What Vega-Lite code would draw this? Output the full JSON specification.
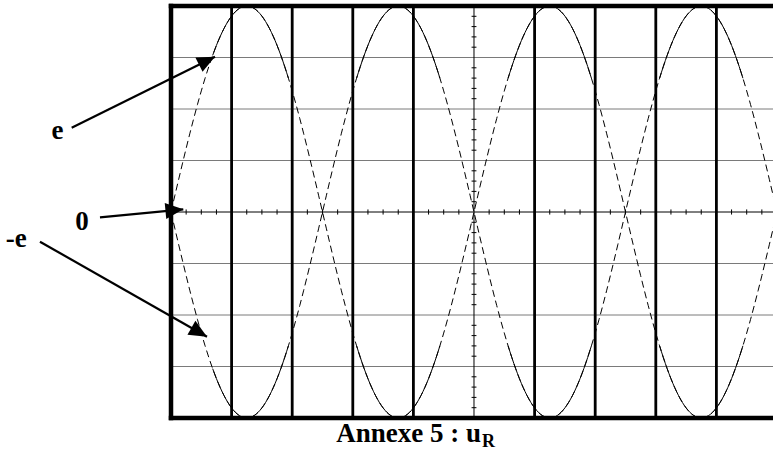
{
  "$schema": "https://vega.github.io/schema/vega-lite/v6.json",
  "width": 602,
  "height": 412,
  "autosize": {"type": "none"},
  "padding": {"left": 171, "top": 6, "right": 0, "bottom": 35},
  "background": "white",
  "config": {"view": {"stroke": null}},
  "datasets": {
    "signal": [
      {"t":0,"e":0,"neg_e":0,"half":0},
      {"t":0.0625,"e":0.3138,"neg_e":-0.3138,"half":0},
      {"t":0.125,"e":0.6257,"neg_e":-0.6257,"half":0},
      {"t":0.1875,"e":0.9338,"neg_e":-0.9338,"half":0},
      {"t":0.25,"e":1.2361,"neg_e":-1.2361,"half":0},
      {"t":0.3125,"e":1.5307,"neg_e":-1.5307,"half":0},
      {"t":0.375,"e":1.816,"neg_e":-1.816,"half":0},
      {"t":0.4375,"e":2.09,"neg_e":-2.09,"half":0},
      {"t":0.5,"e":2.3511,"neg_e":-2.3511,"half":0},
      {"t":0.5625,"e":2.5978,"neg_e":-2.5978,"half":0},
      {"t":0.625,"e":2.8284,"neg_e":-2.8284,"half":0},
      {"t":0.6875,"e":3.0416,"neg_e":-3.0416,"half":0},
      {"t":0.75,"e":3.2361,"neg_e":-3.2361,"half":0},
      {"t":0.8125,"e":3.4106,"neg_e":-3.4106,"half":0},
      {"t":0.875,"e":3.564,"neg_e":-3.564,"half":0},
      {"t":0.9375,"e":3.6955,"neg_e":-3.6955,"half":0},
      {"t":1,"e":3.8042,"neg_e":-3.8042,"half":0},
      {"t":1.0625,"e":3.8895,"neg_e":-3.8895,"half":0},
      {"t":1.125,"e":3.9508,"neg_e":-3.9508,"half":0},
      {"t":1.1875,"e":3.9877,"neg_e":-3.9877,"half":0},
      {"t":1.25,"e":4,"neg_e":-4,"half":0},
      {"t":1.3125,"e":3.9877,"neg_e":-3.9877,"half":0},
      {"t":1.375,"e":3.9508,"neg_e":-3.9508,"half":0},
      {"t":1.4375,"e":3.8895,"neg_e":-3.8895,"half":0},
      {"t":1.5,"e":3.8042,"neg_e":-3.8042,"half":0},
      {"t":1.5625,"e":3.6955,"neg_e":-3.6955,"half":0},
      {"t":1.625,"e":3.564,"neg_e":-3.564,"half":0},
      {"t":1.6875,"e":3.4106,"neg_e":-3.4106,"half":0},
      {"t":1.75,"e":3.2361,"neg_e":-3.2361,"half":0},
      {"t":1.8125,"e":3.0416,"neg_e":-3.0416,"half":0},
      {"t":1.875,"e":2.8284,"neg_e":-2.8284,"half":0},
      {"t":1.9375,"e":2.5978,"neg_e":-2.5978,"half":0},
      {"t":2,"e":2.3511,"neg_e":-2.3511,"half":0},
      {"t":2.0625,"e":2.09,"neg_e":-2.09,"half":0},
      {"t":2.125,"e":1.816,"neg_e":-1.816,"half":0},
      {"t":2.1875,"e":1.5307,"neg_e":-1.5307,"half":0},
      {"t":2.25,"e":1.2361,"neg_e":-1.2361,"half":0},
      {"t":2.3125,"e":0.9338,"neg_e":-0.9338,"half":0},
      {"t":2.375,"e":0.6257,"neg_e":-0.6257,"half":0},
      {"t":2.4375,"e":0.3138,"neg_e":-0.3138,"half":0},
      {"t":2.5,"e":0,"neg_e":0,"half":1},
      {"t":2.5625,"e":-0.3138,"neg_e":0.3138,"half":1},
      {"t":2.625,"e":-0.6257,"neg_e":0.6257,"half":1},
      {"t":2.6875,"e":-0.9338,"neg_e":0.9338,"half":1},
      {"t":2.75,"e":-1.2361,"neg_e":1.2361,"half":1},
      {"t":2.8125,"e":-1.5307,"neg_e":1.5307,"half":1},
      {"t":2.875,"e":-1.816,"neg_e":1.816,"half":1},
      {"t":2.9375,"e":-2.09,"neg_e":2.09,"half":1},
      {"t":3,"e":-2.3511,"neg_e":2.3511,"half":1},
      {"t":3.0625,"e":-2.5978,"neg_e":2.5978,"half":1},
      {"t":3.125,"e":-2.8284,"neg_e":2.8284,"half":1},
      {"t":3.1875,"e":-3.0416,"neg_e":3.0416,"half":1},
      {"t":3.25,"e":-3.2361,"neg_e":3.2361,"half":1},
      {"t":3.3125,"e":-3.4106,"neg_e":3.4106,"half":1},
      {"t":3.375,"e":-3.564,"neg_e":3.564,"half":1},
      {"t":3.4375,"e":-3.6955,"neg_e":3.6955,"half":1},
      {"t":3.5,"e":-3.8042,"neg_e":3.8042,"half":1},
      {"t":3.5625,"e":-3.8895,"neg_e":3.8895,"half":1},
      {"t":3.625,"e":-3.9508,"neg_e":3.9508,"half":1},
      {"t":3.6875,"e":-3.9877,"neg_e":3.9877,"half":1},
      {"t":3.75,"e":-4,"neg_e":4,"half":1},
      {"t":3.8125,"e":-3.9877,"neg_e":3.9877,"half":1},
      {"t":3.875,"e":-3.9508,"neg_e":3.9508,"half":1},
      {"t":3.9375,"e":-3.8895,"neg_e":3.8895,"half":1},
      {"t":4,"e":-3.8042,"neg_e":3.8042,"half":1},
      {"t":4.0625,"e":-3.6955,"neg_e":3.6955,"half":1},
      {"t":4.125,"e":-3.564,"neg_e":3.564,"half":1},
      {"t":4.1875,"e":-3.4106,"neg_e":3.4106,"half":1},
      {"t":4.25,"e":-3.2361,"neg_e":3.2361,"half":1},
      {"t":4.3125,"e":-3.0416,"neg_e":3.0416,"half":1},
      {"t":4.375,"e":-2.8284,"neg_e":2.8284,"half":1},
      {"t":4.4375,"e":-2.5978,"neg_e":2.5978,"half":1},
      {"t":4.5,"e":-2.3511,"neg_e":2.3511,"half":1},
      {"t":4.5625,"e":-2.09,"neg_e":2.09,"half":1},
      {"t":4.625,"e":-1.816,"neg_e":1.816,"half":1},
      {"t":4.6875,"e":-1.5307,"neg_e":1.5307,"half":1},
      {"t":4.75,"e":-1.2361,"neg_e":1.2361,"half":1},
      {"t":4.8125,"e":-0.9338,"neg_e":0.9338,"half":1},
      {"t":4.875,"e":-0.6257,"neg_e":0.6257,"half":1},
      {"t":4.9375,"e":-0.3138,"neg_e":0.3138,"half":1},
      {"t":5,"e":0,"neg_e":0,"half":2},
      {"t":5.0625,"e":0.3138,"neg_e":-0.3138,"half":2},
      {"t":5.125,"e":0.6257,"neg_e":-0.6257,"half":2},
      {"t":5.1875,"e":0.9338,"neg_e":-0.9338,"half":2},
      {"t":5.25,"e":1.2361,"neg_e":-1.2361,"half":2},
      {"t":5.3125,"e":1.5307,"neg_e":-1.5307,"half":2},
      {"t":5.375,"e":1.816,"neg_e":-1.816,"half":2},
      {"t":5.4375,"e":2.09,"neg_e":-2.09,"half":2},
      {"t":5.5,"e":2.3511,"neg_e":-2.3511,"half":2},
      {"t":5.5625,"e":2.5978,"neg_e":-2.5978,"half":2},
      {"t":5.625,"e":2.8284,"neg_e":-2.8284,"half":2},
      {"t":5.6875,"e":3.0416,"neg_e":-3.0416,"half":2},
      {"t":5.75,"e":3.2361,"neg_e":-3.2361,"half":2},
      {"t":5.8125,"e":3.4106,"neg_e":-3.4106,"half":2},
      {"t":5.875,"e":3.564,"neg_e":-3.564,"half":2},
      {"t":5.9375,"e":3.6955,"neg_e":-3.6955,"half":2},
      {"t":6,"e":3.8042,"neg_e":-3.8042,"half":2},
      {"t":6.0625,"e":3.8895,"neg_e":-3.8895,"half":2},
      {"t":6.125,"e":3.9508,"neg_e":-3.9508,"half":2},
      {"t":6.1875,"e":3.9877,"neg_e":-3.9877,"half":2},
      {"t":6.25,"e":4,"neg_e":-4,"half":2},
      {"t":6.3125,"e":3.9877,"neg_e":-3.9877,"half":2},
      {"t":6.375,"e":3.9508,"neg_e":-3.9508,"half":2},
      {"t":6.4375,"e":3.8895,"neg_e":-3.8895,"half":2},
      {"t":6.5,"e":3.8042,"neg_e":-3.8042,"half":2},
      {"t":6.5625,"e":3.6955,"neg_e":-3.6955,"half":2},
      {"t":6.625,"e":3.564,"neg_e":-3.564,"half":2},
      {"t":6.6875,"e":3.4106,"neg_e":-3.4106,"half":2},
      {"t":6.75,"e":3.2361,"neg_e":-3.2361,"half":2},
      {"t":6.8125,"e":3.0416,"neg_e":-3.0416,"half":2},
      {"t":6.875,"e":2.8284,"neg_e":-2.8284,"half":2},
      {"t":6.9375,"e":2.5978,"neg_e":-2.5978,"half":2},
      {"t":7,"e":2.3511,"neg_e":-2.3511,"half":2},
      {"t":7.0625,"e":2.09,"neg_e":-2.09,"half":2},
      {"t":7.125,"e":1.816,"neg_e":-1.816,"half":2},
      {"t":7.1875,"e":1.5307,"neg_e":-1.5307,"half":2},
      {"t":7.25,"e":1.2361,"neg_e":-1.2361,"half":2},
      {"t":7.3125,"e":0.9338,"neg_e":-0.9338,"half":2},
      {"t":7.375,"e":0.6257,"neg_e":-0.6257,"half":2},
      {"t":7.4375,"e":0.3138,"neg_e":-0.3138,"half":2},
      {"t":7.5,"e":0,"neg_e":0,"half":3},
      {"t":7.5625,"e":-0.3138,"neg_e":0.3138,"half":3},
      {"t":7.625,"e":-0.6257,"neg_e":0.6257,"half":3},
      {"t":7.6875,"e":-0.9338,"neg_e":0.9338,"half":3},
      {"t":7.75,"e":-1.2361,"neg_e":1.2361,"half":3},
      {"t":7.8125,"e":-1.5307,"neg_e":1.5307,"half":3},
      {"t":7.875,"e":-1.816,"neg_e":1.816,"half":3},
      {"t":7.9375,"e":-2.09,"neg_e":2.09,"half":3},
      {"t":8,"e":-2.3511,"neg_e":2.3511,"half":3},
      {"t":8.0625,"e":-2.5978,"neg_e":2.5978,"half":3},
      {"t":8.125,"e":-2.8284,"neg_e":2.8284,"half":3},
      {"t":8.1875,"e":-3.0416,"neg_e":3.0416,"half":3},
      {"t":8.25,"e":-3.2361,"neg_e":3.2361,"half":3},
      {"t":8.3125,"e":-3.4106,"neg_e":3.4106,"half":3},
      {"t":8.375,"e":-3.564,"neg_e":3.564,"half":3},
      {"t":8.4375,"e":-3.6955,"neg_e":3.6955,"half":3},
      {"t":8.5,"e":-3.8042,"neg_e":3.8042,"half":3},
      {"t":8.5625,"e":-3.8895,"neg_e":3.8895,"half":3},
      {"t":8.625,"e":-3.9508,"neg_e":3.9508,"half":3},
      {"t":8.6875,"e":-3.9877,"neg_e":3.9877,"half":3},
      {"t":8.75,"e":-4,"neg_e":4,"half":3},
      {"t":8.8125,"e":-3.9877,"neg_e":3.9877,"half":3},
      {"t":8.875,"e":-3.9508,"neg_e":3.9508,"half":3},
      {"t":8.9375,"e":-3.8895,"neg_e":3.8895,"half":3},
      {"t":9,"e":-3.8042,"neg_e":3.8042,"half":3},
      {"t":9.0625,"e":-3.6955,"neg_e":3.6955,"half":3},
      {"t":9.125,"e":-3.564,"neg_e":3.564,"half":3},
      {"t":9.1875,"e":-3.4106,"neg_e":3.4106,"half":3},
      {"t":9.25,"e":-3.2361,"neg_e":3.2361,"half":3},
      {"t":9.3125,"e":-3.0416,"neg_e":3.0416,"half":3},
      {"t":9.375,"e":-2.8284,"neg_e":2.8284,"half":3},
      {"t":9.4375,"e":-2.5978,"neg_e":2.5978,"half":3},
      {"t":9.5,"e":-2.3511,"neg_e":2.3511,"half":3},
      {"t":9.5625,"e":-2.09,"neg_e":2.09,"half":3},
      {"t":9.625,"e":-1.816,"neg_e":1.816,"half":3},
      {"t":9.6875,"e":-1.5307,"neg_e":1.5307,"half":3},
      {"t":9.75,"e":-1.2361,"neg_e":1.2361,"half":3},
      {"t":9.8125,"e":-0.9338,"neg_e":0.9338,"half":3},
      {"t":9.875,"e":-0.6257,"neg_e":0.6257,"half":3},
      {"t":9.9375,"e":-0.3138,"neg_e":0.3138,"half":3},
      {"t":10,"e":0,"neg_e":0,"half":3}
    ],
    "divisions": [
      {"t":0},{"t":1},{"t":2},{"t":3},{"t":4},{"t":5},{"t":6},{"t":7},{"t":8},{"t":9}
    ],
    "niveaux": [
      {"v":-4},{"v":-3},{"v":-2},{"v":-1},{"v":0},{"v":1},{"v":2},{"v":3},{"v":4}
    ],
    "graduations_t": [
      {"t":0.25},{"t":0.5},{"t":0.75},{"t":1.25},{"t":1.5},{"t":1.75},
      {"t":2.25},{"t":2.5},{"t":2.75},{"t":3.25},{"t":3.5},{"t":3.75},
      {"t":4.25},{"t":4.5},{"t":4.75},{"t":5.25},{"t":5.5},{"t":5.75},
      {"t":6.25},{"t":6.5},{"t":6.75},{"t":7.25},{"t":7.5},{"t":7.75},
      {"t":8.25},{"t":8.5},{"t":8.75},{"t":9.25},{"t":9.5},{"t":9.75}
    ],
    "graduations_v": [
      {"v":-3.8},{"v":-3.6},{"v":-3.4},{"v":-3.2},{"v":-2.8},{"v":-2.6},{"v":-2.4},{"v":-2.2},
      {"v":-1.8},{"v":-1.6},{"v":-1.4},{"v":-1.2},{"v":-0.8},{"v":-0.6},{"v":-0.4},{"v":-0.2},
      {"v":0.2},{"v":0.4},{"v":0.6},{"v":0.8},{"v":1.2},{"v":1.4},{"v":1.6},{"v":1.8},
      {"v":2.2},{"v":2.4},{"v":2.6},{"v":2.8},{"v":3.2},{"v":3.4},{"v":3.6},{"v":3.8}
    ],
    "fleches": [
      {"nom":"e","t":0.726,"v":3.016,"t2":-1.639,"v2":1.637},
      {"nom":"0","t":0.203,"v":0.052,"t2":-1.172,"v2":-0.103},
      {"nom":"-e","t":0.594,"v":-2.421,"t2":-2.162,"v2":-0.577}
    ],
    "etiquettes": [
      {"nom":"e","t":-1.873,"v":1.417},
      {"nom":"0","t":-1.469,"v":-0.359},
      {"nom":"-e","t":-2.553,"v":-0.68}
    ],
    "legende": [
      {"texte":"Annexe 5 : u","t":5.116,"v":-4.46},
      {"texte":"R","t":5.132,"v":-4.557}
    ]
  },
  "layer": [
    {
      "data": {"name": "niveaux"},
      "transform": [{"filter": "abs(datum.v) > 0 && abs(datum.v) < 4"}],
      "mark": {"type": "rule", "color": "#7a7a7a", "strokeWidth": 1},
      "encoding": {
        "y": {"field": "v", "type": "quantitative", "scale": {"domain": [-4, 4], "nice": false, "zero": false}, "axis": null}
      }
    },
    {
      "data": {"name": "divisions"},
      "transform": [{"filter": "datum.t != 0 && datum.t != 5"}],
      "mark": {"type": "rule", "color": "black", "strokeWidth": 2.8},
      "encoding": {
        "x": {"field": "t", "type": "quantitative", "scale": {"domain": [0, 9.934], "nice": false, "zero": false}, "axis": null}
      }
    },
    {
      "data": {"name": "divisions"},
      "transform": [{"filter": "datum.t == 5"}],
      "mark": {"type": "rule", "color": "black", "strokeWidth": 1},
      "encoding": {
        "x": {"field": "t", "type": "quantitative", "scale": {"domain": [0, 9.934], "nice": false, "zero": false}, "axis": null}
      }
    },
    {
      "data": {"name": "niveaux"},
      "transform": [{"filter": "datum.v == 0"}],
      "mark": {"type": "rule", "color": "black", "strokeWidth": 1},
      "encoding": {
        "y": {"field": "v", "type": "quantitative", "scale": {"domain": [-4, 4], "nice": false, "zero": false}, "axis": null}
      }
    },
    {
      "data": {"name": "graduations_t"},
      "mark": {"type": "rule", "color": "black", "strokeWidth": 1},
      "encoding": {
        "x": {"field": "t", "type": "quantitative", "scale": {"domain": [0, 9.934], "nice": false, "zero": false}, "axis": null},
        "y": {"datum": -0.05, "type": "quantitative", "scale": {"domain": [-4, 4], "nice": false, "zero": false}, "axis": null},
        "y2": {"datum": 0.05}
      }
    },
    {
      "data": {"name": "graduations_v"},
      "mark": {"type": "rule", "color": "black", "strokeWidth": 1},
      "encoding": {
        "y": {"field": "v", "type": "quantitative", "scale": {"domain": [-4, 4], "nice": false, "zero": false}, "axis": null},
        "x": {"datum": 4.96, "type": "quantitative", "scale": {"domain": [0, 9.934], "nice": false, "zero": false}, "axis": null},
        "x2": {"datum": 5.04}
      }
    },
    {
      "data": {"name": "signal"},
      "transform": [{"fold": ["e", "neg_e"], "as": ["courbe", "v"]}],
      "mark": {"type": "line", "color": "black", "strokeWidth": 1, "strokeDash": [7, 4], "interpolate": "monotone", "clip": true},
      "encoding": {
        "x": {"field": "t", "type": "quantitative", "scale": {"domain": [0, 9.934], "nice": false, "zero": false}, "axis": null},
        "y": {"field": "v", "type": "quantitative", "scale": {"domain": [-4, 4], "nice": false, "zero": false}, "axis": null},
        "detail": {"field": "courbe"}
      }
    },
    {
      "data": {"name": "signal"},
      "transform": [
        {"fold": ["e", "neg_e"], "as": ["courbe", "v"]},
        {"filter": "abs(datum.v) >= 2.55 && datum.t >= 0.68"}
      ],
      "mark": {"type": "line", "color": "black", "strokeWidth": 1, "interpolate": "monotone", "clip": true},
      "encoding": {
        "x": {"field": "t", "type": "quantitative", "scale": {"domain": [0, 9.934], "nice": false, "zero": false}, "axis": null},
        "y": {"field": "v", "type": "quantitative", "scale": {"domain": [-4, 4], "nice": false, "zero": false}, "axis": null},
        "detail": [{"field": "courbe"}, {"field": "half"}]
      }
    },
    {
      "data": {"name": "niveaux"},
      "transform": [{"filter": "abs(datum.v) == 4"}],
      "mark": {"type": "rule", "color": "black", "strokeWidth": 4.5, "strokeCap": "square"},
      "encoding": {
        "y": {"field": "v", "type": "quantitative", "scale": {"domain": [-4, 4], "nice": false, "zero": false}, "axis": null}
      }
    },
    {
      "data": {"name": "divisions"},
      "transform": [{"filter": "datum.t == 0"}],
      "mark": {"type": "rule", "color": "black", "strokeWidth": 4.5, "strokeCap": "square"},
      "encoding": {
        "x": {"field": "t", "type": "quantitative", "scale": {"domain": [0, 9.934], "nice": false, "zero": false}, "axis": null}
      }
    },
    {
      "data": {"name": "fleches"},
      "mark": {"type": "rule", "color": "black", "strokeWidth": 2.2},
      "encoding": {
        "x": {"field": "t", "type": "quantitative", "scale": {"domain": [0, 9.934], "nice": false, "zero": false}, "axis": null},
        "y": {"field": "v", "type": "quantitative", "scale": {"domain": [-4, 4], "nice": false, "zero": false}, "axis": null},
        "x2": {"field": "t2"},
        "y2": {"field": "v2"}
      }
    },
    {
      "data": {"name": "fleches"},
      "transform": [{"filter": "datum.nom == 'e'"}],
      "mark": {"type": "point", "shape": "M0,0L-2,-0.9L-2,0.9Z", "size": 320, "filled": true, "opacity": 1, "color": "black", "angle": -26.4},
      "encoding": {
        "x": {"field": "t", "type": "quantitative", "scale": {"domain": [0, 9.934], "nice": false, "zero": false}, "axis": null},
        "y": {"field": "v", "type": "quantitative", "scale": {"domain": [-4, 4], "nice": false, "zero": false}, "axis": null}
      }
    },
    {
      "data": {"name": "fleches"},
      "transform": [{"filter": "datum.nom == '0'"}],
      "mark": {"type": "point", "shape": "M0,0L-2,-0.9L-2,0.9Z", "size": 320, "filled": true, "opacity": 1, "color": "black", "angle": -5.5},
      "encoding": {
        "x": {"field": "t", "type": "quantitative", "scale": {"domain": [0, 9.934], "nice": false, "zero": false}, "axis": null},
        "y": {"field": "v", "type": "quantitative", "scale": {"domain": [-4, 4], "nice": false, "zero": false}, "axis": null}
      }
    },
    {
      "data": {"name": "fleches"},
      "transform": [{"filter": "datum.nom == '-e'"}],
      "mark": {"type": "point", "shape": "M0,0L-2,-0.9L-2,0.9Z", "size": 320, "filled": true, "opacity": 1, "color": "black", "angle": 29.6},
      "encoding": {
        "x": {"field": "t", "type": "quantitative", "scale": {"domain": [0, 9.934], "nice": false, "zero": false}, "axis": null},
        "y": {"field": "v", "type": "quantitative", "scale": {"domain": [-4, 4], "nice": false, "zero": false}, "axis": null}
      }
    },
    {
      "data": {"name": "etiquettes"},
      "mark": {"type": "text", "font": "Liberation Serif", "fontWeight": "bold", "fontSize": 27, "align": "center", "baseline": "alphabetic", "color": "black"},
      "encoding": {
        "x": {"field": "t", "type": "quantitative", "scale": {"domain": [0, 9.934], "nice": false, "zero": false}, "axis": null},
        "y": {"field": "v", "type": "quantitative", "scale": {"domain": [-4, 4], "nice": false, "zero": false}, "axis": null},
        "text": {"field": "nom"}
      }
    },
    {
      "data": {"name": "legende"},
      "transform": [{"filter": "datum.texte != 'R'"}],
      "mark": {"type": "text", "font": "Liberation Serif", "fontWeight": "bold", "fontSize": 27, "align": "right", "baseline": "alphabetic", "color": "black"},
      "encoding": {
        "x": {"field": "t", "type": "quantitative", "scale": {"domain": [0, 9.934], "nice": false, "zero": false}, "axis": null},
        "y": {"field": "v", "type": "quantitative", "scale": {"domain": [-4, 4], "nice": false, "zero": false}, "axis": null},
        "text": {"field": "texte"}
      }
    },
    {
      "data": {"name": "legende"},
      "transform": [{"filter": "datum.texte == 'R'"}],
      "mark": {"type": "text", "font": "Liberation Serif", "fontWeight": "bold", "fontSize": 18, "align": "left", "baseline": "alphabetic", "color": "black"},
      "encoding": {
        "x": {"field": "t", "type": "quantitative", "scale": {"domain": [0, 9.934], "nice": false, "zero": false}, "axis": null},
        "y": {"field": "v", "type": "quantitative", "scale": {"domain": [-4, 4], "nice": false, "zero": false}, "axis": null},
        "text": {"field": "texte"}
      }
    }
  ]
}
